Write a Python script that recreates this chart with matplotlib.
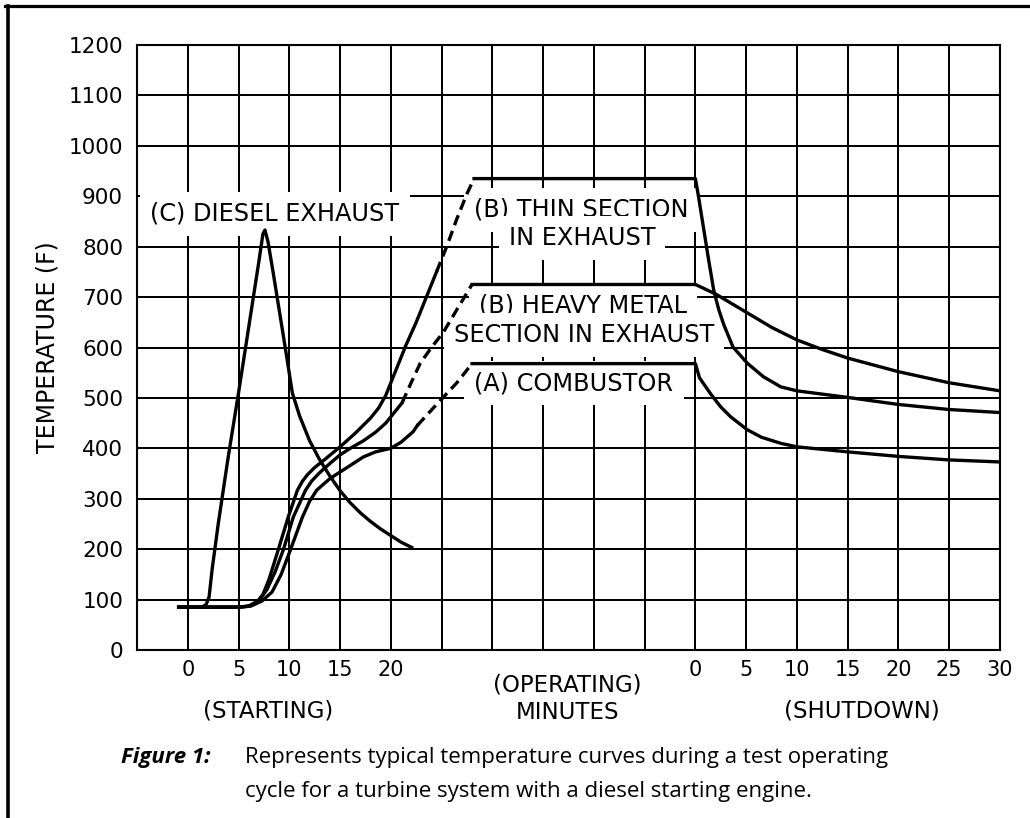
import numpy as np
import matplotlib
matplotlib.use("Agg")
import matplotlib.pyplot as plt
from matplotlib.lines import Line2D

# ---------------- data (minutes / deg F) ----------------
# Starting-phase minutes (x axis "STARTING": 0..20, continues toward operation)
diesel_min = [-0.9, 1.4, 1.8, 2.1, 2.4, 3, 4, 5, 6, 7, 7.4, 7.6, 7.9, 8.4, 8.8, 9.6,
              10.3, 11, 12, 13, 14, 15, 16, 17, 18, 19, 20, 21, 22.2]
diesel_temp = [85, 85, 90, 105, 160, 250, 385, 510, 640, 770, 825, 833, 810, 750, 700, 600,
               510, 465, 415, 377, 345, 316, 292, 272, 255, 240, 227, 214, 202]

thin_rise_min = [-0.9, 5.0, 6.0, 6.8, 7.4, 8.0, 8.9, 9.9, 10.8, 11.3, 11.8, 12.5, 13.5, 15,
                 16.5, 18, 18.8, 19.5, 20.5, 21.5, 22.5, 23.5, 24.5]
thin_rise_temp = [85, 85, 87, 95, 110, 140, 198, 264, 317, 335, 348, 362, 378, 403,
                  430, 460, 480, 505, 555, 605, 650, 700, 750]
thin_dash_min = [24.5, 25.5, 26.5, 27.5, 28.2]
thin_dash_temp = [750, 800, 855, 905, 935]
thin_shut_min = [0, 0.3, 1.3, 1.8, 2.3, 2.8, 3.7, 5.1, 6.7, 8.4, 10, 15, 20, 25, 30]
thin_shut_temp = [935, 900, 774, 714, 675, 645, 601, 569, 542, 522, 514, 501, 487, 477, 471]

heavy_rise_min = [-0.9, 5.0, 6.0, 7.0, 7.8, 8.6, 9.4, 10.4, 11.6, 12.2, 12.9, 14, 15, 16,
                  17.3, 18.5, 19.5, 20.5, 21.1]
heavy_rise_temp = [85, 85, 87, 98, 120, 155, 198, 264, 317, 335, 350, 370, 387, 400,
                   415, 432, 450, 475, 490]
heavy_dash_min = [21.1, 22, 22.9, 24, 25.2, 26.5, 28.0]
heavy_dash_temp = [490, 530, 569, 600, 631, 675, 725]
heavy_shut_min = [0, 2, 5, 7.5, 10, 12.5, 15, 20, 25, 30]
heavy_shut_temp = [725, 706, 670, 640, 615, 596, 579, 552, 530, 514]

comb_rise_min = [-0.9, 5.0, 6.2, 7.3, 8.3, 9.2, 10.1, 11.3, 12.0, 12.7, 14, 15, 16, 17.3,
                 18.5, 20, 21, 22.2, 22.6]
comb_rise_temp = [85, 85, 87, 97, 115, 150, 198, 264, 295, 317, 340, 353, 366, 383,
                  393, 400, 412, 433, 445]
comb_dash_min = [22.6, 23.5, 25.2, 26.5, 28.0]
comb_dash_temp = [445, 465, 502, 530, 568]
comb_shut_min = [0, 0.4, 1.5, 2.5, 3.5, 5.1, 6.5, 8.4, 10, 15, 20, 25, 30]
comb_shut_temp = [568, 540, 508, 482, 462, 437, 422, 410, 403, 393, 384, 377, 373]

start_ticks = [0, 5, 10, 15, 20]
shut_ticks = [0, 5, 10, 15, 20, 25, 30]
y_ticks = list(range(0, 1201, 100))

# ---------------- layout ----------------
W, H = 1030, 818
fig = plt.figure(figsize=(W / 100, H / 100), dpi=100)
AX_L, AX_R, AX_T, AX_B = 137, 1000, 45, 650
ax = fig.add_axes([AX_L / W, 1 - AX_B / H, (AX_R - AX_L) / W, (AX_B - AX_T) / H])

CAD = "DejaVu Sans"
CAP = "Open Sans"


def sx(m):  # starting minutes -> axis units
    return 1 + np.asarray(m, float) / 5.0


def hx(m):  # shutdown minutes -> axis units
    return 11 + np.asarray(m, float) / 5.0


def afrac(px, py):  # reference pixel -> axes fraction
    return (px - AX_L) / (AX_R - AX_L), (AX_B - py) / (AX_B - AX_T)


ax.set_xlim(0, 17)
ax.set_ylim(0, 1200)
ax.set_xticks(np.concatenate([sx(start_ticks), hx(shut_ticks)]))
ax.set_xticklabels([str(t) for t in start_ticks] + [str(t) for t in shut_ticks])
ax.set_xticks(np.arange(0, 18), minor=True)
ax.set_yticks(y_ticks)
ax.set_yticklabels([str(t) for t in y_ticks])
ax.set_axisbelow(True)
ax.grid(which="both", axis="x", color="black", lw=1.45)
ax.grid(which="major", axis="y", color="black", lw=1.45)
ax.tick_params(which="both", length=0)
ax.tick_params(axis="y", pad=10, labelsize=15.5)
ax.tick_params(axis="x", pad=7, labelsize=15)
for lab in ax.get_xticklabels() + ax.get_yticklabels():
    lab.set_family(CAD)
for s in ax.spines.values():
    s.set_linewidth(1.5)
    s.set_color("black")

ax.set_ylabel("TEMPERATURE (F)", fontsize=17, family=CAD, va="center")
ax.yaxis.set_label_coords(-0.104, 0.5)

# ---------------- curves ----------------
LW = 2.4
ax.plot(sx(diesel_min), diesel_temp, color="black", lw=LW, zorder=4,
        solid_joinstyle="round", solid_capstyle="butt")

curves = [
    (thin_rise_min, thin_rise_temp, thin_dash_min, thin_dash_temp, thin_shut_min, thin_shut_temp),
    (heavy_rise_min, heavy_rise_temp, heavy_dash_min, heavy_dash_temp, heavy_shut_min, heavy_shut_temp),
    (comb_rise_min, comb_rise_temp, comb_dash_min, comb_dash_temp, comb_shut_min, comb_shut_temp),
]
for rm, rt, dm, dt, sm, st in curves:
    ax.plot(sx(rm), rt, color="black", lw=LW, zorder=4, solid_joinstyle="round")
    ax.plot(sx(dm), dt, color="black", lw=LW, zorder=4, ls=(0, (3.2, 1.8)))
    xs = np.concatenate([sx(dm[-1:]), hx(sm)])
    ts = np.concatenate([dt[-1:], st])
    ax.plot(xs, ts, color="black", lw=LW, zorder=4, solid_joinstyle="round")

# ---------------- in-plot labels (x centre, baseline y in reference pixels) ----------------
box = dict(facecolor="white", edgecolor="none", boxstyle="square,pad=0.42")
labels = [
    ("(C) DIESEL EXHAUST", 275, 221),
    ("(B) THIN SECTION", 581, 217),
    ("IN EXHAUST", 582, 245),
    ("(B) HEAVY METAL", 583, 313),
    ("SECTION IN EXHAUST", 584, 342),
    ("(A) COMBUSTOR", 574, 390),
]
for txt, px, py in labels:
    fx, fy = afrac(px, py)
    ax.text(fx, fy, txt, transform=ax.transAxes, ha="center", va="baseline",
            fontsize=17.3, family=CAD, bbox=box, zorder=2)

# ---------------- axis captions ----------------
for txt, px, py in [("(STARTING)", 268, 718), ("(OPERATING)", 567, 691),
                    ("MINUTES", 568, 719), ("(SHUTDOWN)", 862, 718)]:
    fx, fy = afrac(px, py)
    ax.text(fx, fy, txt, transform=ax.transAxes, ha="center", va="baseline",
            fontsize=16.5, family=CAD, clip_on=False)

# ---------------- figure caption ----------------
fig.text(121 / W, 1 - 757 / H, "Figure 1:", ha="left", va="center", fontsize=16,
         family=CAP, weight="bold", style="italic")
fig.text(245 / W, 1 - 757 / H,
         "Represents typical temperature curves during a test operating",
         ha="left", va="center", fontsize=16, family=CAP)
fig.text(245 / W, 1 - 791 / H,
         "cycle for a turbine system with a diesel starting engine.",
         ha="left", va="center", fontsize=16, family=CAP)

# ---------------- page frame (top and left) ----------------
fig.add_artist(Line2D([5 / W, 1], [1 - 5.5 / H, 1 - 5.5 / H], transform=fig.transFigure,
                      color="black", lw=2.3))
fig.add_artist(Line2D([8 / W, 8 / W], [0, 1 - 5.5 / H], transform=fig.transFigure,
                      color="black", lw=2.6))

fig.savefig("out.png", dpi=100, facecolor="white")
